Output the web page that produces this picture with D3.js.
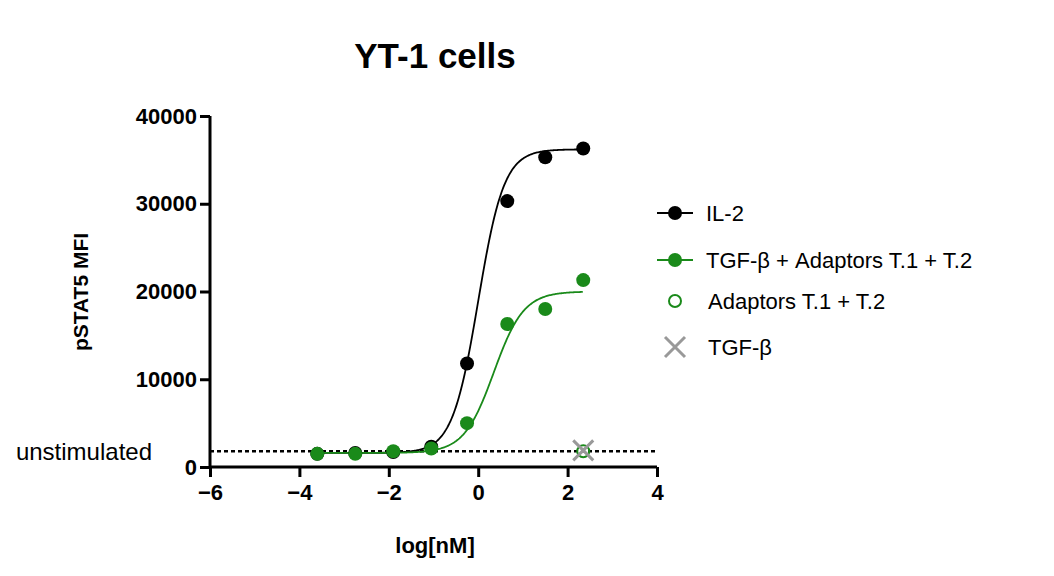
<!DOCTYPE html><html><head><meta charset="utf-8"><script src="https://cdn.jsdelivr.net/npm/d3@7"></script>
<style>body{margin:0;background:#fff}text{font-family:"Liberation Sans",Arial,sans-serif}</style></head><body><svg id="c" width="1054" height="576"></svg><script>
const xs=[-3.6,-2.75,-1.9,-1.05,-0.25,0.65,1.5,2.35];
const il2=[1500,1600,1700,2300,11800,30300,35300,36300];
const tgfAd=[1500,1500,1800,2100,5000,16300,18000,21300];
const adOnly=[[2.35,1800]];
const tgfOnly=[[2.35,1900]];
const unstim=1800;
const xTicks=[-6,-4,-2,0,2,4], yTicks=[0,10000,20000,30000,40000];
const fitIL2={bottom:1600,top:36200,ec50:0.0,h:1.5}, fitTGF={bottom:1600,top:20000,ec50:0.35,h:1.3};
const svg=d3.select("#c");
const x=d3.scaleLinear().domain([-6,4]).range([210,657]);
const y=d3.scaleLinear().domain([0,40000]).range([467,116]);
svg.append("text").attr("x",435).attr("y",68).attr("text-anchor","middle").attr("font-size",35).attr("font-weight","bold").text("YT-1 cells");
const xa=svg.append("g").attr("transform","translate(0,467)").call(d3.axisBottom(x).tickValues(xTicks).tickSize(10).tickFormat(d3.format("d")));
const ya=svg.append("g").attr("transform","translate(210,0)").call(d3.axisLeft(y).tickValues(yTicks).tickSize(10).tickFormat(d=>d));
[xa,ya].forEach(a=>{a.selectAll("path,line").attr("stroke","#000").attr("stroke-width",3);a.selectAll("text").attr("font-size",22).attr("font-weight","bold").attr("fill","#000");});
xa.selectAll("text").attr("dy","0.9em");
ya.selectAll("text").attr("x",-13);
ya.select(".domain").attr("d","M0,116V467");xa.select(".domain").attr("d","M210,0H657");
svg.append("text").attr("x",435).attr("y",553).attr("text-anchor","middle").attr("font-size",22).attr("font-weight","bold").text("log[nM]");
svg.append("text").attr("transform","translate(88,292) rotate(-90)").attr("text-anchor","middle").attr("font-size",21).attr("font-weight","bold").text("pSTAT5 MFI");
svg.append("line").attr("x1",210).attr("x2",657).attr("y1",y(unstim)).attr("y2",y(unstim)).attr("stroke","#000").attr("stroke-width",2.5).attr("stroke-dasharray","4,3");
svg.append("text").attr("x",152).attr("y",y(unstim)+9).attr("text-anchor","end").attr("font-size",24).text("unstimulated");
function curve(f,c){const pts=d3.range(-3.6,2.36,0.02).map(v=>[v,f.bottom+(f.top-f.bottom)/(1+Math.pow(10,f.h*(f.ec50-v)))]);
svg.append("path").attr("d",d3.line().x(d=>x(d[0])).y(d=>y(d[1]))(pts)).attr("fill","none").attr("stroke",c).attr("stroke-width",1.8);}
curve(fitIL2,"#000");curve(fitTGF,"#1a8a1a");
xs.forEach((v,i)=>svg.append("circle").attr("cx",x(v)).attr("cy",y(il2[i])).attr("r",7).attr("fill","#000"));
xs.forEach((v,i)=>svg.append("circle").attr("cx",x(v)).attr("cy",y(tgfAd[i])).attr("r",7).attr("fill","#1a8a1a"));
adOnly.forEach(d=>svg.append("circle").attr("cx",x(d[0])).attr("cy",y(d[1])).attr("r",6).attr("fill","none").attr("stroke","#1a8a1a").attr("stroke-width",2));
function cross(cx,cy,s){svg.append("path").attr("d",`M${cx-s},${cy-s}L${cx+s},${cy+s}M${cx-s},${cy+s}L${cx+s},${cy-s}`).attr("stroke","#999").attr("stroke-width",3);}
tgfOnly.forEach(d=>cross(x(d[0]),y(d[1]),10));
const leg=[["IL-2","fill","#000"],["TGF-β + Adaptors T.1 + T.2","fill","#1a8a1a"],["Adaptors T.1 + T.2","open","#1a8a1a"],["TGF-β","x","#999"]];
const ly=[213,260,301,347];
leg.forEach((l,i)=>{const yy=ly[i];
 if(l[1]!=="x"&&l[1]!=="open"){svg.append("line").attr("x1",657).attr("x2",693).attr("y1",yy).attr("y2",yy).attr("stroke",l[2]).attr("stroke-width",1.8);
 svg.append("circle").attr("cx",675).attr("cy",yy).attr("r",7).attr("fill",l[2]);}
 else if(l[1]==="open")svg.append("circle").attr("cx",675).attr("cy",yy).attr("r",6).attr("fill","none").attr("stroke",l[2]).attr("stroke-width",2);
 else cross(675,yy,10);
 svg.append("text").attr("x",l[1]==="fill"?706:708).attr("y",yy+8).attr("font-size",22).text(l[0]);});
</script></body></html>
